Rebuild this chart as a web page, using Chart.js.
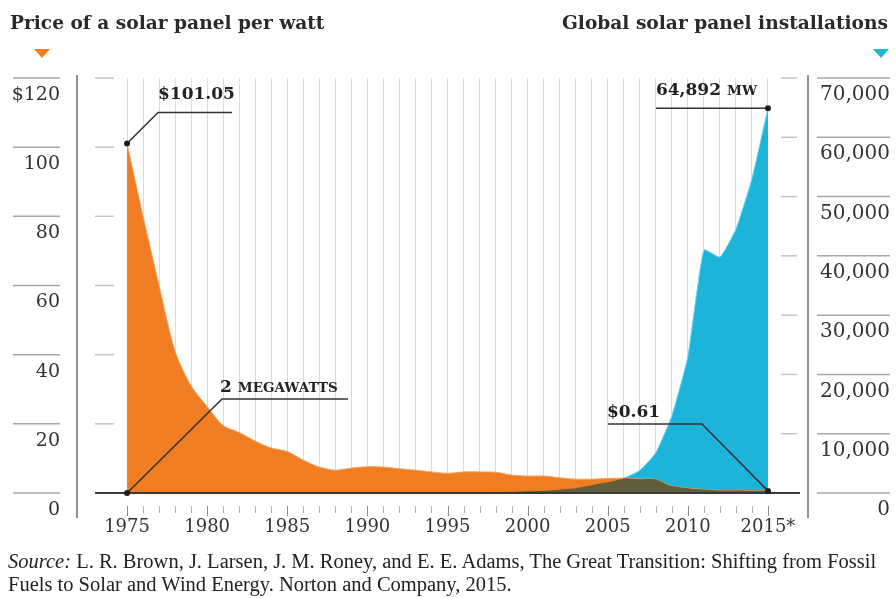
<!DOCTYPE html>
<html>
<head>
<meta charset="utf-8">
<script src="https://cdn.jsdelivr.net/npm/chart.js@4.4.0/dist/chart.umd.min.js"></script>
<style>
body { margin: 0; background: #fff; }
#wrap { position: relative; width: 896px; height: 598px; overflow: hidden; }
canvas { position: absolute; left: 0; top: 0; }
.title { position: absolute; top: 14px; font: bold 18.6px/18px "DejaVu Serif", serif; color: #2a2a2a; white-space: nowrap; }
#source { position: absolute; left: 8px; top: 550px; font: 20.5px/23px "Liberation Serif", serif; color: #222; white-space: nowrap; }
</style>
</head>
<body>
<div id="wrap">
  <canvas id="chartSolar" width="896" height="598"></canvas>
  <div class="title" style="left:10px">Price of a solar panel per watt</div>
  <div class="title" style="right:8px">Global solar panel installations</div>
  <div id="source"><i>Source:</i> L. R. Brown, J. Larsen, J. M. Roney, and E. E. Adams, The Great Transition: Shifting from Fossil<br>Fuels to Solar and Wind Energy. Norton and Company, 2015.</div>
</div>
<script>
var years = [1975, 1976, 1977, 1978, 1979, 1980, 1981, 1982, 1983, 1984,
             1985, 1986, 1987, 1988, 1989, 1990, 1991, 1992, 1993, 1994,
             1995, 1996, 1997, 1998, 1999, 2000, 2001, 2002, 2003, 2004,
             2005, 2006, 2007, 2008, 2009, 2010, 2011, 2012, 2013, 2014, 2015];
// dollars per watt
var priceValues = [101.05, 80, 60, 41, 31, 25, 19.5, 17.5, 15, 13,
                   12, 9.5, 7.5, 6.6, 7.2, 7.6, 7.5, 7.0, 6.6, 6.1,
                   5.7, 6.1, 6.1, 6.0, 5.2, 4.9, 4.9, 4.4, 4.0, 4.0,
                   4.2, 4.3, 4.0, 3.9, 2.0, 1.4, 1.0, 0.75, 0.7, 0.65, 0.61];
// megawatts installed
var installValues = [2, 3, 4, 5, 7, 9, 12, 15, 18, 21,
                     24, 27, 30, 34, 40, 46, 55, 58, 61, 70,
                     78, 90, 126, 155, 201, 280, 400, 560, 800, 1300,
                     1800, 2500, 3800, 6800, 13000, 23000, 41000, 39800, 44500, 53000, 64892];
var priceTicks = [0, 20, 40, 60, 80, 100, 120];
var installTicks = [0, 10000, 20000, 30000, 40000, 50000, 60000, 70000];
var yearLabels = [1975, 1980, 1985, 1990, 1995, 2000, 2005, 2010, 2015];

var orange = '#f07d22';
var blue = '#1cb4d8';
var olive = '#5f5d3b';

function areaPath(ctx, line, base) {
    var pts = line.points;
    ctx.beginPath();
    line.path(ctx);
    ctx.lineTo(pts[pts.length - 1].x, base);
    ctx.lineTo(pts[0].x, base);
    ctx.closePath();
}

function dot(ctx, x, y) {
    ctx.beginPath();
    ctx.arc(x, y, 3, 0, Math.PI * 2);
    ctx.fillStyle = '#1e1e1e';
    ctx.fill();
}

function leader(ctx, pts) {
    ctx.beginPath();
    ctx.moveTo(pts[0][0], pts[0][1]);
    for (var i = 1; i < pts.length; i++) ctx.lineTo(pts[i][0], pts[i][1]);
    ctx.strokeStyle = '#333';
    ctx.lineWidth = 1.5;
    ctx.stroke();
}

// big text followed by small caps part
function label(ctx, x, y, big, small) {
    ctx.fillStyle = '#222';
    ctx.textAlign = 'left';
    ctx.textBaseline = 'alphabetic';
    ctx.font = 'bold 17px "DejaVu Serif"';
    ctx.fillText(big, x, y);
    if (small) {
        var w = ctx.measureText(big + ' ').width;
        ctx.font = 'bold 13.5px "DejaVu Serif"';
        ctx.fillText(small, x + w, y);
    }
}

function triangle(ctx, cx, color) {
    ctx.beginPath();
    ctx.moveTo(cx - 8, 49);
    ctx.lineTo(cx + 8, 49);
    ctx.lineTo(cx, 58);
    ctx.closePath();
    ctx.fillStyle = color;
    ctx.fill();
}

var solarDecor = {
    id: 'solarDecor',
    afterDatasetsDraw: function(chart) {
        // where both areas overlap the fill turns olive
        var ctx = chart.ctx;
        var a = chart.chartArea;
        var base = chart.scales.yPrice.getPixelForValue(0);
        ctx.save();
        ctx.beginPath();
        ctx.rect(a.left, a.top, a.right - a.left, a.bottom - a.top);
        ctx.clip();
        areaPath(ctx, chart.getDatasetMeta(1).dataset, base);
        ctx.clip();
        areaPath(ctx, chart.getDatasetMeta(0).dataset, base);
        ctx.fillStyle = olive;
        ctx.fill();
        ctx.restore();
    },
    afterDraw: function(chart) {
        var ctx = chart.ctx;
        var a = chart.chartArea;
        var x = chart.scales.x, yp = chart.scales.yPrice, yi = chart.scales.yInst;
        ctx.save();

        // axis rules
        ctx.strokeStyle = '#6f6f6f';
        ctx.lineWidth = 1.5;
        ctx.beginPath();
        ctx.moveTo(77, 75); ctx.lineTo(77, 518);
        ctx.moveTo(808, 75); ctx.lineTo(808, 518);
        ctx.stroke();

        // rules above tick labels and short dashes inside
        priceTicks.forEach(function(v) {
            var py = yp.getPixelForValue(v);
            ctx.strokeStyle = '#a8a8a8';
            ctx.lineWidth = 1.5;
            ctx.beginPath();
            ctx.moveTo(13, py); ctx.lineTo(60, py);
            ctx.stroke();
            ctx.strokeStyle = '#c4c4c4';
            ctx.beginPath();
            ctx.moveTo(a.left, py); ctx.lineTo(a.left + 19, py);
            ctx.stroke();
        });
        installTicks.forEach(function(v) {
            var py = yi.getPixelForValue(v);
            ctx.strokeStyle = '#a8a8a8';
            ctx.lineWidth = 1.5;
            ctx.beginPath();
            ctx.moveTo(817, py); ctx.lineTo(890, py);
            ctx.stroke();
            ctx.strokeStyle = '#c4c4c4';
            ctx.beginPath();
            ctx.moveTo(a.right - 19, py); ctx.lineTo(a.right - 3, py);
            ctx.stroke();
        });

        // baseline
        ctx.strokeStyle = '#3a3a3a';
        ctx.lineWidth = 2;
        ctx.beginPath();
        ctx.moveTo(a.left, a.bottom); ctx.lineTo(a.right, a.bottom);
        ctx.stroke();

        // small year ticks under the axis
        ctx.lineWidth = 1;
        years.forEach(function(yr) {
            var px = Math.round(x.getPixelForValue(yr)) + 0.5;
            var major = yr % 5 === 0;
            ctx.strokeStyle = major ? '#8c8c8c' : '#b0b0b0';
            ctx.beginPath();
            ctx.moveTo(px, 506); ctx.lineTo(px, major ? 516 : 513);
            ctx.stroke();
        });

        // callouts
        var n = years.length - 1;
        var ax = x.getPixelForValue(years[0]);
        var ay = yp.getPixelForValue(priceValues[0]);
        leader(ctx, [[ax, ay], [ax + 31, ay - 31], [ax + 105, ay - 31]]);
        dot(ctx, ax, ay);
        label(ctx, ax + 31, ay - 45, '$101.05');

        ay = yi.getPixelForValue(installValues[0]);
        leader(ctx, [[ax, ay], [ax + 95, ay - 94], [ax + 221, ay - 94]]);
        dot(ctx, ax, ay);
        label(ctx, ax + 93, ay - 101, '2', 'MEGAWATTS');

        ax = x.getPixelForValue(years[n]);
        ay = yp.getPixelForValue(priceValues[n]);
        leader(ctx, [[ax, ay], [ax - 66, ay - 67], [ax - 160, ay - 67]]);
        dot(ctx, ax, ay);
        label(ctx, ax - 161, ay - 74, '$0.61');

        ay = yi.getPixelForValue(installValues[n]);
        leader(ctx, [[ax, ay], [ax - 112, ay]]);
        dot(ctx, ax, ay);
        label(ctx, ax - 112, ay - 13, installValues[n].toLocaleString('en-US'), 'MW');

        triangle(ctx, 42, orange);
        triangle(ctx, 881, blue);
        ctx.restore();
    }
};

function drawSolar() {
    var ctx = document.getElementById('chartSolar');
    var tickFont = { family: 'DejaVu Serif', size: 19 };
    new Chart(ctx, {
        type: 'line',
        data: {
            datasets: [{
                label: 'Price per watt',
                data: years.map(function(yr, i) { return { x: yr, y: priceValues[i] }; }),
                yAxisID: 'yPrice',
                backgroundColor: orange,
                borderColor: '#f5a25e',
                borderWidth: 1,
                fill: 'origin',
                pointRadius: 0,
                tension: 0.3
            }, {
                label: 'Installations',
                data: years.map(function(yr, i) { return { x: yr, y: installValues[i] }; }),
                yAxisID: 'yInst',
                backgroundColor: blue,
                borderColor: '#6fd3ea',
                borderWidth: 1,
                fill: 'origin',
                pointRadius: 0,
                tension: 0.15
            }]
        },
        options: {
            responsive: false,
            animation: false,
            layout: { padding: { top: 78, right: 6, left: 0, bottom: 0 } },
            plugins: { legend: { display: false }, tooltip: { enabled: false } },
            scales: {
                x: {
                    type: 'linear',
                    min: 1973,
                    max: 2017,
                    z: 1,
                    afterBuildTicks: function(s) { s.ticks = years.map(function(v) { return { value: v }; }); },
                    afterFit: function(s) { s.height = 105; },
                    grid: { color: 'rgba(0,0,0,0.14)', lineWidth: 1, drawTicks: false },
                    border: { display: false },
                    ticks: {
                        autoSkip: false,
                        maxRotation: 0,
                        padding: 24,
                        color: '#333',
                        font: { family: 'DejaVu Serif', size: 18 },
                        callback: function(v) {
                            if (yearLabels.indexOf(v) < 0) return '';
                            return v === 2015 ? '2015*' : String(v);
                        }
                    }
                },
                yPrice: {
                    type: 'linear',
                    position: 'left',
                    min: 0,
                    max: 120,
                    afterBuildTicks: function(s) { s.ticks = priceTicks.map(function(v) { return { value: v }; }); },
                    afterFit: function(s) { s.width = 95; },
                    grid: { display: false, drawTicks: false },
                    border: { display: false },
                    ticks: {
                        autoSkip: false,
                        padding: 35,
                        labelOffset: 17,
                        color: '#333',
                        font: tickFont,
                        callback: function(v) { return v === 120 ? '$120' : String(v); }
                    }
                },
                yInst: {
                    type: 'linear',
                    position: 'right',
                    min: 0,
                    max: 70000,
                    afterBuildTicks: function(s) { s.ticks = installTicks.map(function(v) { return { value: v }; }); },
                    afterFit: function(s) { s.width = 90; },
                    grid: { display: false, drawTicks: false },
                    border: { display: false },
                    ticks: {
                        autoSkip: false,
                        padding: 10,
                        labelOffset: 17,
                        crossAlign: 'far',
                        color: '#333',
                        font: { family: 'DejaVu Serif', size: 20 },
                        callback: function(v) { return v.toLocaleString('en-US'); }
                    }
                }
            }
        },
        plugins: [solarDecor]
    });
}

drawSolar();
</script>
</body>
</html>
